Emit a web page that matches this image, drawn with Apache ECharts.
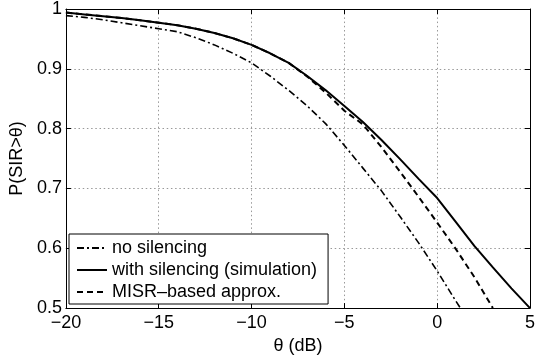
<!DOCTYPE html>
<html>
<head>
<meta charset="utf-8">
<script src="https://cdn.jsdelivr.net/npm/echarts@6/dist/echarts.min.js"></script>
<style>html,body{margin:0;padding:0;background:#fff;}#c{width:538px;height:360px;}</style>
</head>
<body>
<div id="c"></div>
<script>
// theta (dB) sample points and read-off values
const thetaFull = [-20,-19,-18,-17,-16,-15,-14,-13,-12,-11,-10,-9,-8,-7,-6,-5,-4,-3,-2,-1,0,1,2,3,4,5];
const withSilencing = [0.994,0.991,0.988,0.985,0.981,0.977,0.973,0.967,0.960,0.951,0.940,0.926,0.910,0.888,0.864,0.838,0.811,0.781,0.749,0.716,0.684,0.644,0.604,0.568,0.533,0.500];

const thetaMisr = [-20,-19,-18,-17,-16,-15,-14,-13,-12,-11,-10,-9,-8,-7,-6,-5,-4,-3,-2,-1,0,1,2,3];
const misrApprox = [0.994,0.991,0.988,0.985,0.981,0.977,0.973,0.967,0.960,0.951,0.940,0.926,0.910,0.887,0.860,0.830,0.807,0.769,0.728,0.686,0.643,0.599,0.552,0.500];

const thetaNoSil = [-20,-19,-18,-17,-16,-15,-14,-13,-12,-11,-10,-9,-8,-7,-6,-5,-4,-3,-2,-1,0,1,1.25];
const noSilencing = [0.989,0.986,0.982,0.977,0.972,0.967,0.962,0.952,0.940,0.926,0.910,0.888,0.864,0.838,0.808,0.772,0.734,0.696,0.653,0.609,0.562,0.512,0.500];

const legendNames = ['no silencing','with silencing (simulation)','MISR\u2013based approx.'];
const xTicks = {min:-20, max:5, interval:5};
const yTicks = {min:0.5, max:1, interval:0.1};

function pairs(xs, ys){ return xs.map((x,i)=>[x, ys[i]]); }

const FONT = 'Liberation Sans';
const chart = echarts.init(document.getElementById('c'), null, {renderer:'canvas'});
const gridLine = {show:true, lineStyle:{color:'#999', width:1, type:[1.5,2.7]}};
const tick = {show:true, inside:true, length:5, lineStyle:{color:'#000', width:1}};
const axLine = {show:true, onZero:false, lineStyle:{color:'#000', width:1}};

chart.setOption({
  animation:false,
  backgroundColor:'#fff',
  textStyle:{fontFamily:FONT},
  grid:{left:64, right:4, top:9, bottom:51, containLabel:false},
  legend:{
    orient:'vertical', left:69, top:234,
    data:legendNames,
    itemWidth:30, itemHeight:14, itemGap:4,
    padding:[5,11,3,7],
    borderColor:'#000', borderWidth:1, backgroundColor:'#fff',
    itemStyle:{color:'rgba(0,0,0,0)', borderWidth:0, opacity:0},
    textStyle:{fontFamily:FONT, fontSize:18, color:'#000', lineHeight:18},
    selectedMode:false
  },
  xAxis:[{
    type:'value', min:xTicks.min, max:xTicks.max, interval:xTicks.interval,
    name:'\u03b8 (dB)', nameLocation:'middle', nameGap:26,
    nameTextStyle:{fontFamily:FONT, fontSize:18, color:'#000'},
    axisLine:axLine, axisTick:tick, splitLine:gridLine,
    axisLabel:{fontFamily:FONT, fontSize:18, color:'#000', margin:6,
      formatter:v=> v<0 ? '\u2212'+(-v) : String(v)}
  },{
    type:'value', position:'top', min:xTicks.min, max:xTicks.max, interval:xTicks.interval,
    axisLine:axLine, axisTick:tick, splitLine:{show:false}, axisLabel:{show:false}
  }],
  yAxis:[{
    type:'value', min:yTicks.min, max:yTicks.max, interval:yTicks.interval,
    name:'P(SIR>\u03b8)', nameLocation:'middle', nameGap:30,
    nameTextStyle:{fontFamily:FONT, fontSize:18, color:'#000'},
    axisLine:axLine, axisTick:tick, splitLine:gridLine,
    axisLabel:{fontFamily:FONT, fontSize:18, color:'#000', margin:4,
      formatter:v=> String(Math.round(v*10)/10)}
  },{
    type:'value', position:'right', min:yTicks.min, max:yTicks.max, interval:yTicks.interval,
    axisLine:axLine, axisTick:tick, splitLine:{show:false}, axisLabel:{show:false}
  }],
  series:[{
    name:legendNames[0], type:'line', symbol:'none', smooth:false,
    data:pairs(thetaNoSil, noSilencing),
    lineStyle:{color:'#000', width:1.6, type:[7,3,2,3]},
    itemStyle:{color:'#000'}
  },{
    name:legendNames[1], type:'line', symbol:'none', smooth:false,
    data:pairs(thetaFull, withSilencing),
    lineStyle:{color:'#000', width:2, type:'solid'},
    itemStyle:{color:'#000'}
  },{
    name:legendNames[2], type:'line', symbol:'none', smooth:false,
    data:pairs(thetaMisr, misrApprox),
    lineStyle:{color:'#000', width:2, type:[6,4]},
    itemStyle:{color:'#000'}
  }]
});
</script>
</body>
</html>
